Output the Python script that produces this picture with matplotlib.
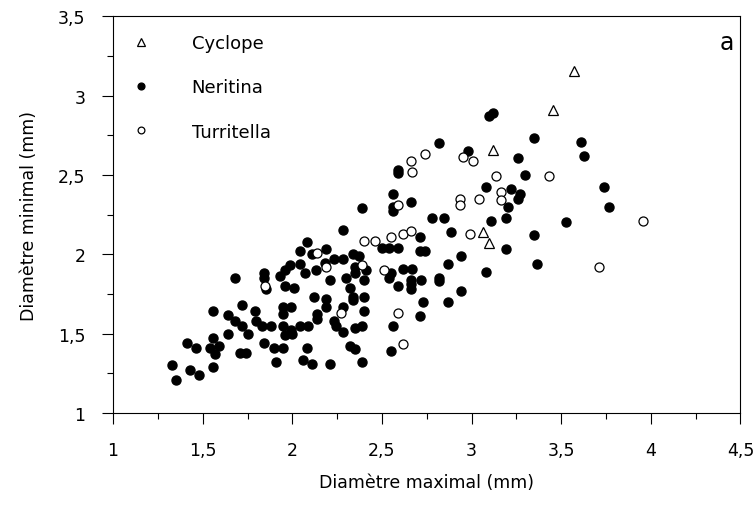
import numpy as np
import matplotlib.pyplot as plt
from matplotlib.ticker import MultipleLocator, FuncFormatter

# Neritina (filled circles)
ner_x = [1.68, 1.72, 1.56, 1.64, 1.68, 1.72, 1.75, 1.64, 1.56, 1.41, 1.46, 1.54, 1.59, 1.57,
         1.71, 1.74, 1.33, 1.43, 1.48, 1.56, 1.35,
         2.56, 2.56, 2.56, 2.66, 2.39, 2.28, 2.08, 2.50, 2.54, 2.59, 2.71, 2.71, 2.74, 2.04,
         2.11, 2.19, 2.23, 2.28, 2.34, 2.37, 2.18, 1.985, 1.96, 2.04, 2.07, 2.13, 2.35, 2.35,
         2.41, 2.55, 2.62, 2.67, 2.54, 1.84, 1.84, 1.93, 1.855, 1.96, 2.01, 2.21, 2.30, 2.32,
         2.40, 2.59, 2.66, 2.66, 2.66, 2.72, 2.12, 2.19, 2.34, 2.34, 2.40, 2.73, 1.79, 1.95,
         1.99, 1.95, 2.14, 2.14, 2.19, 2.28, 2.40, 1.80, 1.83, 1.88, 1.95, 1.99, 2.04, 2.09,
         1.96, 2.00, 2.23, 2.245, 2.285, 2.35, 2.39, 2.56, 2.71, 1.84, 1.90, 1.95, 2.08, 2.32,
         2.35, 2.55, 1.91, 2.06, 2.11, 2.21, 2.39,
         2.59, 2.59, 3.10, 3.12, 2.82, 2.98, 3.35, 3.26, 3.30, 3.08, 3.22, 3.27, 3.26, 3.205,
         2.78, 2.845, 3.19, 3.11, 2.885, 3.19, 3.35, 3.365, 2.94, 2.87, 3.08, 2.82, 2.82, 2.94,
         2.87, 3.61, 3.63, 3.74, 3.765, 3.525]
ner_y = [1.85, 1.68, 1.64, 1.62, 1.58, 1.545, 1.50, 1.50, 1.47, 1.44, 1.41, 1.41, 1.42, 1.37,
         1.38, 1.38, 1.30, 1.27, 1.24, 1.29, 1.21,
         2.38, 2.30, 2.27, 2.33, 2.29, 2.155, 2.08, 2.04, 2.04, 2.04, 2.11, 2.02, 2.02, 2.02,
         2.00, 2.03, 1.97, 1.97, 2.00, 1.99, 1.945, 1.93, 1.90, 1.94, 1.88, 1.90, 1.92, 1.88,
         1.90, 1.88, 1.91, 1.91, 1.85, 1.88, 1.85, 1.86, 1.78, 1.80, 1.79, 1.84, 1.85, 1.79,
         1.84, 1.80, 1.84, 1.81, 1.78, 1.84, 1.73, 1.72, 1.73, 1.71, 1.73, 1.70, 1.64, 1.67,
         1.67, 1.625, 1.625, 1.59, 1.67, 1.67, 1.64, 1.58, 1.55, 1.545, 1.545, 1.52, 1.545, 1.545,
         1.49, 1.50, 1.58, 1.545, 1.51, 1.535, 1.545, 1.545, 1.61, 1.44, 1.41, 1.41, 1.41, 1.42,
         1.40, 1.39, 1.32, 1.335, 1.31, 1.31, 1.32,
         2.53, 2.51, 2.87, 2.89, 2.70, 2.65, 2.73, 2.605, 2.50, 2.425, 2.41, 2.38, 2.35, 2.30,
         2.23, 2.23, 2.23, 2.21, 2.14, 2.03, 2.12, 1.94, 1.99, 1.94, 1.89, 1.85, 1.83, 1.77,
         1.70, 2.71, 2.62, 2.425, 2.30, 2.20]

# Turritella (open circles)
tur_x = [2.59, 2.40, 2.46, 2.55, 2.62, 2.66, 2.14, 2.19, 2.39, 2.51, 1.85, 2.27, 2.59, 2.62,
         2.66, 2.67, 2.74, 2.95, 3.01, 3.43, 3.135, 3.165, 3.165, 3.04, 2.935, 2.935, 2.99,
         3.955, 3.71]
tur_y = [2.31, 2.085, 2.085, 2.11, 2.13, 2.145, 2.01, 1.92, 1.93, 1.90, 1.80, 1.63, 1.63, 1.435,
         2.585, 2.52, 2.63, 2.61, 2.585, 2.49, 2.49, 2.39, 2.34, 2.345, 2.345, 2.31, 2.13,
         2.21, 1.92]

# Cyclope (open triangles)
cyc_x = [3.12, 3.065, 3.10, 3.455, 3.57]
cyc_y = [2.655, 2.14, 2.07, 2.91, 3.155]

plt.rcParams['font.family'] = 'DejaVu Sans'

fig = plt.figure(figsize=(7.54, 5.06), dpi=100)
ax = fig.add_axes([0.150, 0.182, 0.832, 0.784])

ax.plot(ner_x, ner_y, 'o', color='black', markersize=6.5, label='Neritina')
ax.plot(tur_x, tur_y, 'o', markerfacecolor='white', markeredgecolor='black',
        markeredgewidth=0.9, markersize=6.5, label='Turritella')
ax.plot(cyc_x, cyc_y, '^', markerfacecolor='white', markeredgecolor='black',
        markeredgewidth=0.9, markersize=7, label='Cyclope')

ax.set_xlim(1, 4.5)
ax.set_ylim(1, 3.5)
ax.xaxis.set_major_locator(MultipleLocator(0.5))
ax.xaxis.set_minor_locator(MultipleLocator(0.25))
ax.yaxis.set_major_locator(MultipleLocator(0.5))
ax.yaxis.set_minor_locator(MultipleLocator(0.25))
comma = FuncFormatter(lambda v, p: ('%g' % v).replace('.', ','))
ax.xaxis.set_major_formatter(comma)
ax.yaxis.set_major_formatter(comma)
ax.tick_params(which='major', direction='out', length=8, width=0.8, labelsize=12.5, pad=12)
ax.tick_params(which='minor', direction='out', length=4.5, width=0.8)
ax.tick_params(axis='y', pad=12)

ax.set_xlabel('Diamètre maximal (mm)', fontsize=12.5, labelpad=10)
ax.set_ylabel('Diamètre minimal (mm)', fontsize=12.5, labelpad=14)

handles, labels = ax.get_legend_handles_labels()
order = [2, 0, 1]
ax.legend([handles[i] for i in order], [labels[i] for i in order], loc='upper left',
          frameon=False, fontsize=13, markerscale=0.75, handletextpad=1.8,
          labelspacing=1.45, borderaxespad=0.6, bbox_to_anchor=(-0.013, 1.0))

ax.text(0.99, 0.965, 'a', transform=ax.transAxes, ha='right', va='top', fontsize=17)

fig.savefig('out.png', dpi=100)
